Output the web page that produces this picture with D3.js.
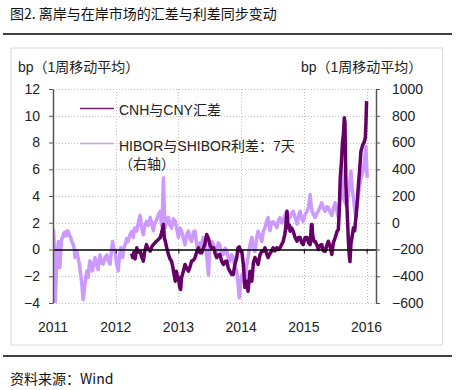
<!DOCTYPE html>
<html><head><meta charset="utf-8">
<script src="https://cdn.jsdelivr.net/npm/d3@7"></script>
<style>
html,body{margin:0;padding:0;background:#fff;}
svg{display:block;font-family:"Liberation Sans",Arial,"Noto Sans CJK SC",sans-serif;}
</style></head>
<body>
<svg id="c" width="461" height="390"></svg>
<script>
const title = "图2. 离岸与在岸市场的汇差与利差同步变动";
const source = "资料来源：Wind";
const leftAxisTitle = "bp（1周移动平均）";
const rightAxisTitle = "bp（1周移动平均）";
const seriesNames = ["CNH与CNY汇差", "HIBOR与SHIBOR利差：7天", "（右轴）"];
const yearTicks = [2011, 2012, 2013, 2014, 2015, 2016];
const leftTicks = [-4, -2, 0, 2, 4, 6, 8, 10, 12];
const rightTicks = [-600, -400, -200, 0, 200, 400, 600, 800, 1000];

// HIBOR-SHIBOR 7D spread (right axis), dates as decimal years
const lightDates = [2011.00,2011.01,2011.02,2011.035,2011.05,2011.065,2011.085,2011.10,2011.11,2011.125,2011.14,2011.155,2011.17,2011.19,2011.21,2011.23,2011.245,2011.26,2011.28,2011.30,2011.325,2011.34,2011.35,2011.365,2011.38,2011.40,2011.42,2011.44,2011.46,2011.47,2011.48,2011.495,2011.51,2011.525,2011.54,2011.55,2011.56,2011.575,2011.59,2011.61,2011.63,2011.65,2011.67,2011.69,2011.72,2011.735,2011.75,2011.775,2011.80,2011.83,2011.86,2011.885,2011.91,2011.93,2011.95,2011.97,2011.99,2012.01,2012.04,2012.06,2012.08,2012.10,2012.11,2012.13,2012.15,2012.175,2012.20,2012.225,2012.255,2012.28,2012.30,2012.335,2012.36,2012.39,2012.41,2012.44,2012.465,2012.49,2012.52,2012.55,2012.575,2012.60,2012.625,2012.65,2012.68,2012.71,2012.73,2012.745,2012.76,2012.775,2012.79,2012.815,2012.84,2012.865,2012.89,2012.92,2012.95,2012.975,2013.00,2013.025,2013.05,2013.08,2013.105,2013.13,2013.16,2013.185,2013.21,2013.24,2013.265,2013.29,2013.32,2013.345,2013.37,2013.395,2013.42,2013.45,2013.48,2013.50,2013.53,2013.56,2013.585,2013.61,2013.635,2013.66,2013.69,2013.72,2013.745,2013.77,2013.795,2013.82,2013.85,2013.875,2013.90,2013.93,2013.955,2013.97,2013.99,2014.01,2014.035,2014.06,2014.085,2014.11,2014.14,2014.17,2014.195,2014.22,2014.245,2014.27,2014.30,2014.33,2014.355,2014.38,2014.405,2014.43,2014.445,2014.46,2014.485,2014.51,2014.54,2014.57,2014.595,2014.62,2014.645,2014.67,2014.70,2014.73,2014.755,2014.78,2014.805,2014.83,2014.86,2014.89,2014.915,2014.94,2014.965,2014.99,2015.02,2015.05,2015.075,2015.10,2015.115,2015.13,2015.155,2015.18,2015.205,2015.23,2015.26,2015.285,2015.31,2015.34,2015.365,2015.39,2015.42,2015.445,2015.47,2015.50,2015.525,2015.55,2015.565,2015.58,2015.60,2015.615,2015.63,2015.65,2015.67,2015.69,2015.71,2015.73,2015.75,2015.77,2015.79,2015.81,2015.83,2015.85,2015.87,2015.89,2015.91,2015.93,2015.95,2015.97,2015.99,2016.00,2016.01];
const lightValues = [-100,-60,-180,-590,-420,-250,-140,-300,-335,-200,-120,-110,-80,-70,-100,-60,-65,-90,-110,-140,-165,-200,-260,-220,-210,-260,-310,-380,-460,-520,-575,-520,-460,-400,-360,-390,-410,-330,-285,-330,-360,-300,-260,-310,-350,-280,-240,-300,-310,-260,-240,-290,-310,-220,-140,-200,-215,-300,-360,-250,-185,-230,-260,-190,-165,-120,-140,-90,-65,-110,-40,-63,0,55,-30,-90,-20,10,-20,40,-10,-60,0,20,60,86,-20,80,336,100,-36,20,40,-20,-40,30,10,-50,-110,-40,-63,-120,-165,-90,-63,-120,-140,-70,-63,-160,-215,-150,-165,-110,-138,-250,-390,-165,-140,-165,-210,-215,-150,-165,-240,-237,-190,-213,-260,-287,-240,-260,-330,-360,-480,-560,-450,-390,-440,-460,-330,-260,-170,-110,-190,-215,-120,-63,-100,-140,-60,-36,10,39,-20,-60,0,9,-10,-36,20,39,0,9,60,86,50,39,70,86,40,-10,50,86,30,9,60,86,120,211,130,86,60,39,70,86,120,149,110,86,120,112,80,54,110,149,90,39,100,211,428,300,187,160,136,160,211,300,385,250,187,100,39,130,211,280,336,360,400,480,570,420,336];

// CNH-CNY spread (left axis)
const darkDates = [2012.255,2012.27,2012.29,2012.31,2012.335,2012.36,2012.39,2012.41,2012.44,2012.46,2012.49,2012.51,2012.55,2012.575,2012.60,2012.625,2012.65,2012.68,2012.71,2012.735,2012.76,2012.775,2012.79,2012.815,2012.84,2012.865,2012.89,2012.91,2012.93,2012.95,2012.965,2012.98,2013.00,2013.02,2013.035,2013.05,2013.08,2013.105,2013.13,2013.16,2013.185,2013.21,2013.24,2013.265,2013.29,2013.32,2013.345,2013.37,2013.395,2013.42,2013.45,2013.48,2013.50,2013.53,2013.56,2013.585,2013.61,2013.635,2013.66,2013.69,2013.72,2013.745,2013.77,2013.795,2013.82,2013.85,2013.875,2013.90,2013.93,2013.95,2013.97,2013.99,2014.01,2014.035,2014.06,2014.08,2014.095,2014.11,2014.14,2014.155,2014.17,2014.195,2014.22,2014.245,2014.27,2014.30,2014.33,2014.355,2014.38,2014.405,2014.43,2014.46,2014.485,2014.51,2014.54,2014.57,2014.595,2014.62,2014.645,2014.67,2014.695,2014.71,2014.73,2014.75,2014.77,2014.78,2014.805,2014.83,2014.86,2014.89,2014.915,2014.94,2014.965,2014.99,2015.02,2015.05,2015.075,2015.10,2015.12,2015.13,2015.14,2015.16,2015.18,2015.21,2015.23,2015.255,2015.285,2015.31,2015.34,2015.365,2015.39,2015.42,2015.445,2015.47,2015.50,2015.53,2015.55,2015.565,2015.58,2015.60,2015.615,2015.63,2015.645,2015.655,2015.67,2015.69,2015.71,2015.725,2015.735,2015.75,2015.77,2015.79,2015.81,2015.83,2015.85,2015.87,2015.89,2015.91,2015.925,2015.94,2015.96,2015.98,2015.99,2016.00];
const darkValues = [-0.3,-0.6,-0.2,-0.7,0.13,-0.2,-0.13,-0.5,-0.87,-0.2,0.37,0.1,-0.13,0.2,0.37,0.5,0.62,0.75,0.9,1.3,1.87,0.9,0.62,0.1,-0.37,-0.7,-0.87,-1.3,-1.87,-2.37,-1.62,-1.9,-2.09,-2.84,-2.99,-2.09,-1.6,-1.12,-1.4,-1.62,-1.3,-0.87,-0.8,-0.6,-0.2,0.13,-0.25,-0.25,0.1,0.37,1.12,0.8,0.37,0.1,0.13,-0.3,-0.6,-0.4,-0.37,-0.9,-1.12,-0.9,-0.87,-1.4,-1.62,-1.87,-1.87,-1.12,-0.6,0.13,0.2,-0.13,-0.13,-1.12,-2.84,-2.37,-2.5,-3.12,-1.62,-2.0,-2.37,-1.0,-0.6,-0.8,-1.12,-0.4,-0.13,-0.13,0.13,-0.3,-0.6,-0.3,-0.13,0.13,-0.1,0.13,0,0.1,0.37,0.6,1.12,1.6,2.86,1.62,1.8,1.37,1.6,1.37,0.9,0.62,0.9,0.9,0.5,0.37,0.9,0.9,0.5,0.37,1.87,1.87,1.12,0.6,0.62,0.3,0,0.3,0.37,-0.1,-0.13,0.3,0.62,0.2,-0.37,0.5,0.9,1.37,1.5,3.0,5.36,6.6,8.0,8.6,9.85,9.5,4.86,2.86,0.62,-0.5,-0.9,0.4,1.0,1.62,1.4,2.4,3.5,4.86,6.0,7.35,7.6,7.85,8.0,8.35,9.5,11.09];

const svg = d3.select("#c");
const FONT = '"Liberation Sans",Arial,"Noto Sans CJK SC",sans-serif';
const CJK = '"Noto Sans CJK SC","Liberation Sans",sans-serif';

// frame & rules
svg.append("line").attr("x1",3).attr("x2",452).attr("y1",34).attr("y2",34).attr("stroke","#000").attr("stroke-width",1.5);
svg.append("line").attr("x1",3).attr("x2",452).attr("y1",356).attr("y2",356).attr("stroke","#000").attr("stroke-width",1.5);
svg.append("rect").attr("x",11).attr("y",48).attr("width",431.5).attr("height",297).attr("fill","none").attr("stroke","#d9d9d9").attr("stroke-width",1);

svg.append("text").attr("x",10).attr("y",19).attr("font-size",14).attr("font-family",CJK).attr("fill","#111").text(title);
svg.append("text").attr("x",10).attr("y",384).attr("font-size",14).attr("font-family",CJK).attr("fill","#111").text(source);

const x = d3.scaleLinear().domain([2011, 2016.15]).range([53, 376]);
const yL = d3.scaleLinear().domain([-4, 12]).range([303, 89]);
const yR = d3.scaleLinear().domain([-600, 1000]).range([303, 89]);

// grid
const grid = svg.append("g").attr("stroke","#bfbfbf").attr("stroke-width",1).attr("stroke-dasharray","1,2");
leftTicks.filter(d => d !== 0).forEach(d => {
  grid.append("line").attr("x1",x.range()[0]).attr("x2",x.range()[1]).attr("y1",Math.round(yL(d))+0.5).attr("y2",Math.round(yL(d))+0.5);
});
yearTicks.slice(1).forEach(d => {
  grid.append("line").attr("x1",Math.round(x(d))+0.5).attr("x2",Math.round(x(d))+0.5).attr("y1",yL.range()[1]).attr("y2",yL.range()[0]);
});

// series
const defs = svg.append("defs");
defs.append("clipPath").attr("id","clip").append("rect").attr("x",53).attr("y",89).attr("width",323).attr("height",214);
const plot = svg.append("g").attr("clip-path","url(#clip)");
const lightData = lightDates.map((d,i) => [d, lightValues[i]]);
const darkData = darkDates.map((d,i) => [d, darkValues[i]]);
plot.append("path").datum(lightData)
  .attr("d", d3.line().x(d => x(d[0])).y(d => yR(d[1])))
  .attr("fill","none").attr("stroke","#cc99ff").attr("stroke-width",3.5).attr("stroke-linejoin","round");
plot.append("path").datum(darkData)
  .attr("d", d3.line().x(d => x(d[0])).y(d => yL(d[1])))
  .attr("fill","none").attr("stroke","#660066").attr("stroke-width",3.5).attr("stroke-linejoin","round");

// zero line with year ticks
const xAxis = svg.append("g").attr("transform",`translate(0,${yL(0)})`)
  .call(d3.axisBottom(x).tickValues(yearTicks).tickSize(4).tickSizeOuter(0).tickFormat(""));
xAxis.select(".domain").attr("stroke","#000").attr("stroke-width",1.5);
xAxis.selectAll(".tick line").attr("stroke","#000");

// year labels
svg.append("g").selectAll("text").data(yearTicks).join("text")
  .attr("x", d => x(d)).attr("y", 332).attr("text-anchor","middle")
  .attr("font-size",14).attr("font-family",FONT).attr("fill","#222").text(d => d);

// left axis
const la = svg.append("g").attr("transform","translate(53,0)")
  .call(d3.axisLeft(yL).tickValues(leftTicks).tickSize(4).tickSizeOuter(0).tickPadding(9).tickFormat(d3.format("d")));
la.select(".domain").attr("stroke","#555").attr("stroke-width",1.5);
la.selectAll(".tick line").attr("stroke","#555");
la.selectAll(".tick text").attr("font-size",14).attr("font-family",FONT).attr("fill","#222");

// right axis
const ra = svg.append("g").attr("transform","translate(376,0)")
  .call(d3.axisRight(yR).tickValues(rightTicks).tickSize(4).tickSizeOuter(0).tickPadding(12).tickFormat(d3.format("d")));
ra.select(".domain").attr("stroke","#555").attr("stroke-width",1.5);
ra.selectAll(".tick line").attr("stroke","#555");
ra.selectAll(".tick text").attr("font-size",14).attr("font-family",FONT).attr("fill","#222");

// axis titles
svg.append("text").attr("x",18).attr("y",72).attr("font-size",14).attr("font-family",FONT).attr("fill","#222").text(leftAxisTitle);
svg.append("text").attr("x",301).attr("y",72).attr("font-size",14).attr("font-family",FONT).attr("fill","#222").text(rightAxisTitle);

// legend
const lg = svg.append("g");
lg.append("line").attr("x1",80).attr("x2",114).attr("y1",108.5).attr("y2",108.5).attr("stroke","#7a1f7a").attr("stroke-width",1.5);
lg.append("text").attr("x",119).attr("y",115).attr("font-size",14).attr("font-family",FONT).attr("fill","#222").text(seriesNames[0]);
lg.append("line").attr("x1",80).attr("x2",114).attr("y1",143.5).attr("y2",143.5).attr("stroke","#cc99ff").attr("stroke-width",1.5);
lg.append("text").attr("x",119).attr("y",151).attr("font-size",14).attr("font-family",FONT).attr("fill","#222").text(seriesNames[1]);
lg.append("text").attr("x",119).attr("y",169).attr("font-size",14).attr("font-family",FONT).attr("fill","#222").text(seriesNames[2]);
</script>
</body></html>
